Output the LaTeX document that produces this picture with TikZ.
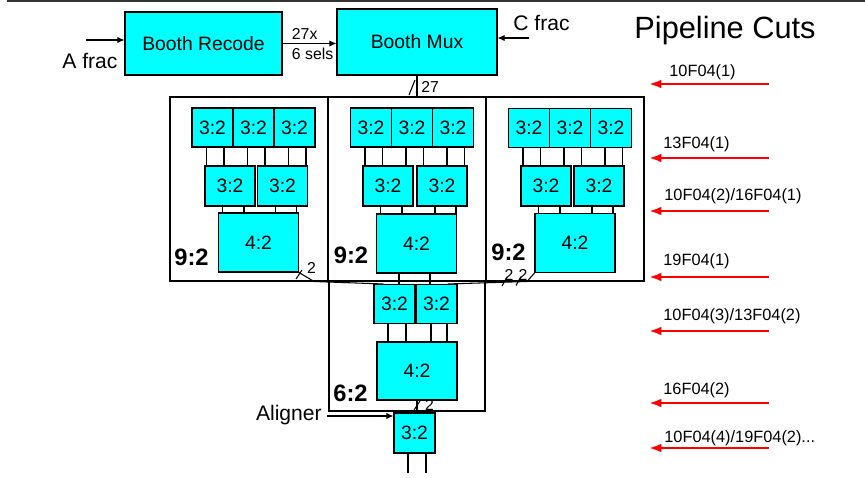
\documentclass[tikz,border=0pt]{standalone}
\usepackage{fontspec}
\setmainfont{Liberation Sans}
\usetikzlibrary{arrows.meta, positioning, calc}
\definecolor{csacyan}{HTML}{00FFFF}
\definecolor{cutred}{HTML}{FF0000}
\definecolor{framegray}{HTML}{333333}

\begin{document}
\begin{tikzpicture}[x=0.02cm, y=-0.02cm,
  csa/.style={draw, fill=csacyan, line width=0.6pt, inner sep=0pt,
              font=\fontsize{11}{13}\selectfont},
  top/.style={csa, minimum width=0.82cm, minimum height=0.78cm},
  mid/.style={csa, minimum width=1.0cm, minimum height=0.8cm},
  four/.style={csa, minimum width=1.6cm, minimum height=1.18cm},
  booth/.style={csa, font=\fontsize{11}{13}\selectfont},
  tree/.style={draw, line width=0.6pt, inner sep=0pt},
  ratio/.style={font=\bfseries\fontsize{13.5}{16}\selectfont, inner sep=0pt},
  sig/.style={font=\fontsize{12}{14}\selectfont, inner sep=0pt},
  small/.style={font=\fontsize{9}{11}\selectfont, inner sep=0pt},
  wire/.style={line width=0.6pt},
  arr/.style={-{Latex[length=4pt,width=3.5pt]}, line width=0.6pt},
  cut/.style={-{Latex[length=7pt,width=5pt]}, cutred, line width=1.5pt},
  cutlbl/.style={anchor=base west, inner sep=0pt, font=\fontsize{9.3}{11}\selectfont},
]
  \useasboundingbox (0,0) rectangle (865,477);
  \draw[line width=1pt, framegray] (7,1) -- (865,1);

  % booth stage
  \node[booth, minimum width=3.14cm, minimum height=1.26cm] (recode) at (203.5,43.5) {Booth Recode};
  \node[booth, minimum width=3.2cm, minimum height=1.32cm] (mux) at (417,42) {Booth Mux};
  \coordinate (ain) at (86,40);
  \coordinate (cin) at (529,38);
  \draw[arr] (ain) -- (ain -| recode.west);
  \node[sig, anchor=base west] (afrac) at (62,68) {A frac};
  \draw[arr] (recode.east) -- node[pos=0.1, above right, small, inner sep=2pt] {27x}
                              node[pos=0.1, below right, small, inner sep=2pt] {6 sels}
             (recode.east -| mux.west);
  \draw[arr] (cin) -- (cin -| mux.east);
  \node[sig, anchor=base west] (cfrac) at (513,30) {C frac};
  \node[font=\fontsize{17.5}{20}\selectfont, inner sep=0pt] (title) at (725,31) {Pipeline Cuts};

  % 9:2 and 6:2 outlines
  \node[tree, minimum width=3.16cm, minimum height=3.68cm] (sa) at (249,189) {};
  \node[tree, minimum width=3.16cm, minimum height=3.68cm] (sb) at (407,189) {};
  \node[tree, minimum width=3.16cm, minimum height=3.68cm] (sc) at (565,189) {};
  \node[tree, minimum width=3.12cm, minimum height=2.6cm] (sd) at (407,346) {};

  \draw[wire] (mux.south) -- (mux.south |- sb.north);
  \draw[wire] (409,95) -- (415,80);
  \node[small, anchor=base west] (n27) at (421,92) {27};

  % left 9:2
  \node[top] (a1) at (212.5,127.5) {3:2};
  \node[top] (a2) at (253.5,127.5) {3:2};
  \node[top] (a3) at (294.5,127.5) {3:2};
  \node[mid] (a4) at (230,186) {3:2};
  \node[mid] (a5) at (282.5,186) {3:2};
  \node[four] (a6) at (258.5,242.5) {4:2};
  \node[ratio] (ra) at (191.5,257) {9:2};

  % middle 9:2
  \node[top] (b1) at (371,127.5) {3:2};
  \node[top] (b2) at (412,127.5) {3:2};
  \node[top] (b3) at (453,127.5) {3:2};
  \node[mid] (b4) at (388,186) {3:2};
  \node[mid] (b5) at (442,186) {3:2};
  \node[four] (b6) at (416.5,243.5) {4:2};
  \node[ratio] (rb) at (351,255) {9:2};

  % right 9:2
  \node[top] (c1) at (529,128) {3:2};
  \node[top] (c2) at (570,128) {3:2};
  \node[top] (c3) at (611,128) {3:2};
  \node[mid] (c4) at (546,186) {3:2};
  \node[mid] (c5) at (599,186) {3:2};
  \node[four] (c6) at (575,243) {4:2};
  \node[ratio] (rc) at (508.5,252) {9:2};

  \foreach \p in {a,b,c}
    \foreach \f/\s/\t in {1/-0.12cm/4, 1/0.23cm/4, 2/-0.12cm/4, 2/0.23cm/5,
                          3/-0.12cm/5, 3/0.23cm/5, 4/-0.15cm/6, 4/0.28cm/6,
                          5/-0.14cm/6, 5/0.28cm/6}
      \draw[wire] ([xshift=\s]\p\f.south) -- ([xshift=\s]\p\f.south |- \p\t.north);

  % 6:2
  \node[top] (d1) at (394.5,304) {3:2};
  \node[top] (d2) at (436.5,304) {3:2};
  \node[four, minimum height=1.16cm] (d3) at (417,371) {4:2};
  \node[ratio] (rd) at (350.5,393) {6:2};
  \foreach \f/\s in {1/-0.13cm, 1/0.23cm, 2/-0.11cm, 2/0.21cm}
    \draw[wire] ([xshift=\s]d\f.south) -- ([xshift=\s]d\f.south |- d3.north);
  \draw[wire] ([xshift=-0.35cm]b6.south) -- ([xshift=-0.35cm]b6.south |- d1.north);
  \draw[wire] ([xshift=0.27cm]b6.south) -- ([xshift=0.27cm]b6.south |- d2.north);

  % 2-bit buses from the side trees
  \draw[wire] (a6.south east) -- ([xshift=0.3cm]a6.south east |- sa.south)
              -- ([xshift=0.2cm]d1.north west);
  \draw[wire] (296,279) -- (302,270);
  \node[small] (la) at (311.5,268) {2};
  \draw[wire] (c6.south west) -- ([xshift=-0.15cm]c6.south west |- sc.south)
              -- ([xshift=-0.2cm]d2.north east);
  \draw[wire] (502,286) -- (507,277);
  \draw[wire] (516,285.5) -- (521,276.5);
  \node[small] (lc1) at (509,275) {2};
  \node[small] (lc2) at (523,275) {2};

  % aligner
  \node[top, minimum height=0.8cm] (e1) at (414.5,433) {3:2};
  \draw[wire] (d3.south) -- (d3.south |- e1.north);
  \draw[wire] (414,410) -- (420,401);
  \node[small] (le) at (429.5,405) {2};
  \coordinate (alg) at (327,416);
  \draw[arr] (alg) -- (alg -| e1.west);
  \node[sig, anchor=base east] (algtxt) at (322,420) {Aligner};
  \draw[wire] ([xshift=-0.13cm]e1.south) -- ++(0,19);
  \draw[wire] ([xshift=0.23cm]e1.south) -- ++(0,19);

  % pipeline cuts
  \draw[cut] (769,84) -- (649,84);
  \node[cutlbl] (k1) at (669,76) {10F04(1)};
  \draw[cut] (769,158) -- (649,158);
  \node[cutlbl] (k2) at (663,148) {13F04(1)};
  \draw[cut] (769,211) -- (649,211);
  \node[cutlbl] (k3) at (664,200) {10F04(2)/16F04(1)};
  \draw[cut] (769,277) -- (649,277);
  \node[cutlbl] (k4) at (663,265) {19F04(1)};
  \draw[cut] (769,331) -- (649,331);
  \node[cutlbl] (k5) at (663,320) {10F04(3)/13F04(2)};
  \draw[cut] (769,403) -- (649,403);
  \node[cutlbl] (k6) at (663,394) {16F04(2)};
  \draw[cut] (769,448) -- (649,448);
  \node[cutlbl] (k7) at (664,442) {10F04(4)/19F04(2)...};
\end{tikzpicture}
\end{document}
